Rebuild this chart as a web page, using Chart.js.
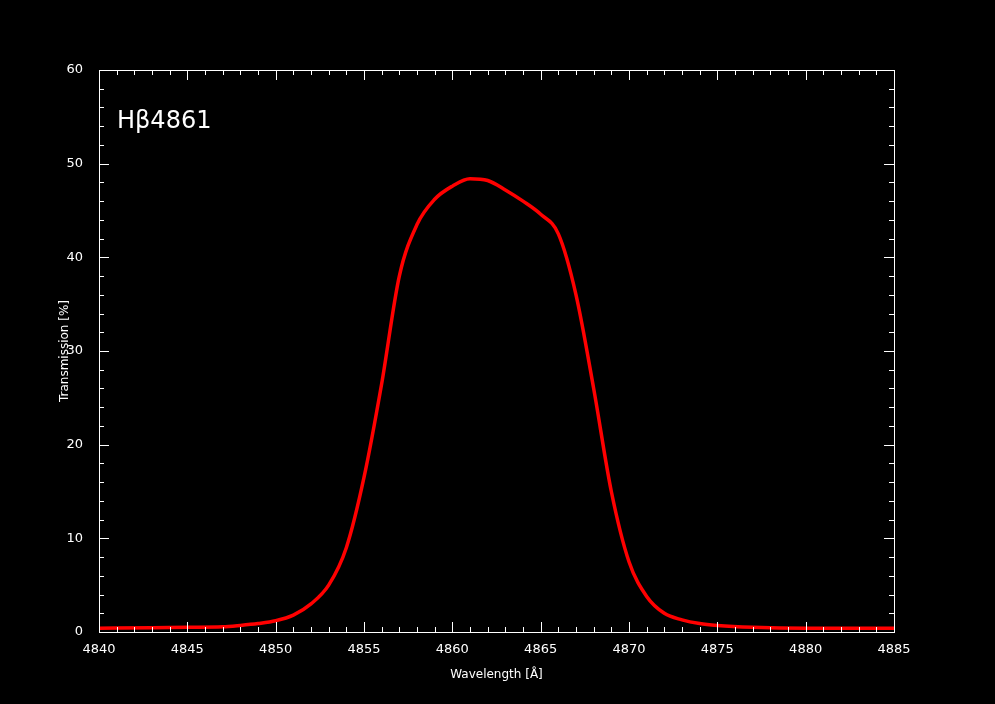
<!DOCTYPE html>
<html><head><meta charset="utf-8">
<script src="https://cdn.jsdelivr.net/npm/chart.js@4"></script>
<style>html,body{margin:0;background:#000}</style></head>
<body><canvas id="c" width="995" height="704"></canvas>
<script>
const wavelength=[4840,4843,4845,4847,4848,4849,4850,4851,4852,4853,4854,4855,4856,4857,4858,4859,4860,4861,4862,4863,4864,4865,4866,4867,4868,4869,4870,4871,4872,4873,4874,4875,4877,4880,4885];
const transmission=[0.4,0.45,0.5,0.55,0.7,0.9,1.2,1.8,3.0,5.0,9.0,16.5,26.5,38.0,43.5,46.2,47.6,48.4,48.2,47.2,46.0,44.6,42.5,36.0,26.0,15.0,7.5,3.8,2.0,1.3,0.9,0.7,0.5,0.4,0.4];
const filterLabel='Hβ4861';
const xTitle='Wavelength [Å]', yTitle='Transmission [%]';
const font='DejaVu Sans';
const frame={id:'frame',afterDraw(ch){
 const c=ch.ctx,a=ch.chartArea,x=ch.scales.x,y=ch.scales.y;
 c.save();c.strokeStyle='#fff';c.lineWidth=1;
 c.strokeRect(a.left+0.5,a.top+0.5,a.right-a.left,a.bottom-a.top);
 c.beginPath();
 for(let v=4840;v<=4885;v++){const p=Math.round(x.getPixelForValue(v))+0.5,L=v%5==0?10:5;
  c.moveTo(p,a.bottom);c.lineTo(p,a.bottom-L);c.moveTo(p,a.top);c.lineTo(p,a.top+L);}
 for(let v=0;v<=60;v+=2){const p=Math.round(y.getPixelForValue(v))+0.5,L=v%10==0?10:5;
  c.moveTo(a.left,p);c.lineTo(a.left+L,p);c.moveTo(a.right,p);c.lineTo(a.right-L,p);}
 c.stroke();
 c.fillStyle='#fff';c.font='24px '+font;c.textBaseline='alphabetic';c.fillText(filterLabel,a.left+18,a.top+58);
 c.font='12px '+font;c.textAlign='center';c.textBaseline='middle';
 c.fillText(xTitle,(a.left+a.right)/2,675);
 c.translate(65,(a.top+a.bottom)/2);c.rotate(-Math.PI/2);c.fillText(yTitle,0,0);
 c.restore();}};
new Chart(document.getElementById('c'),{type:'scatter',
 data:{datasets:[{data:wavelength.map((w,i)=>({x:w,y:transmission[i]})),showLine:true,borderColor:'#ff0000',borderWidth:3.5,pointRadius:0,cubicInterpolationMode:'monotone'}]},
 options:{responsive:false,animation:false,layout:{padding:{top:70,right:101,left:0,bottom:0}},
  plugins:{legend:{display:false},tooltip:{enabled:false}},
  scales:{
   x:{type:'linear',min:4840,max:4885,afterFit(s){s.height=72;},grid:{display:false},border:{display:false},
      ticks:{stepSize:5,color:'#fff',font:{family:font,size:13},padding:2,callback:v=>String(v)}},
   y:{min:0,max:60,afterFit(s){s.width=99;},grid:{display:false},border:{display:false},
      ticks:{stepSize:10,color:'#fff',font:{family:font,size:13},padding:8,callback:v=>String(v)}}}},
 plugins:[frame,{id:'bg',beforeDraw(ch){ch.ctx.fillStyle='#000';ch.ctx.fillRect(0,0,995,704);}}]});
</script></body></html>
